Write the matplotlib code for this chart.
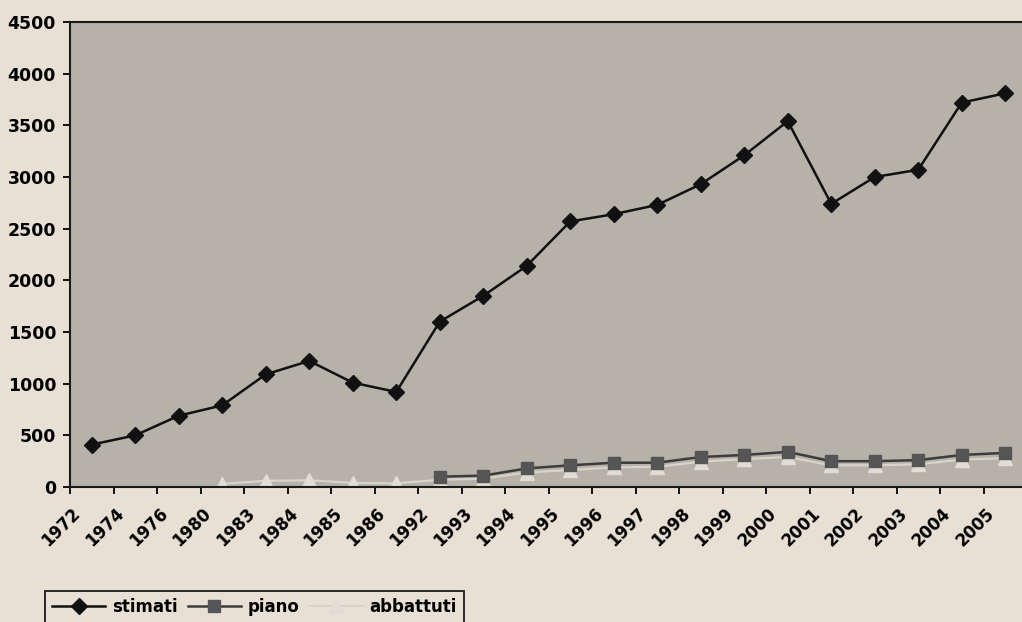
import matplotlib
matplotlib.use("Agg")
import matplotlib.pyplot as plt
import matplotlib.transforms as mtransforms
import numpy as np

years = ["1972", "1974", "1976", "1980", "1983", "1984", "1985", "1986", "1992", "1993", "1994",
         "1995", "1996", "1997", "1998", "1999", "2000", "2001", "2002", "2003", "2004", "2005"]
stimati = [410, 500, 690, 790, 1090, 1220, 1010, 920, 1600, 1850, 2140,
           2570, 2640, 2730, 2930, 3210, 3540, 2740, 3000, 3070, 3720, 3810]
piano = [np.nan] * 8 + [100, 110, 180, 210, 235, 235, 290, 310, 340, 250, 250, 260, 310, 330]
abbattuti = [np.nan, np.nan, np.nan, 30, 60, 65, 40, 35, 70, 80, 140,
             165, 190, 195, 245, 270, 290, 210, 210, 220, 265, 280]
yticks = [0, 500, 1000, 1500, 2000, 2500, 3000, 3500, 4000, 4500]

PAPER = "#e9e0d5"
PLOT_BG = "#b6b2a9"

plt.rcParams["font.family"] = ["DejaVu Sans"]
plt.rcParams["font.weight"] = "bold"

fig = plt.figure(figsize=(10.22, 6.22), dpi=100, facecolor=PAPER)
ax = fig.add_axes([70 / 1022, 1 - 487 / 622, 957 / 1022, 465 / 622])
ax.set_facecolor(PLOT_BG)

x = np.arange(len(years))
ax.plot(x, abbattuti, color="#d9d3c9", lw=1.6, marker="^", ms=10, mfc="#e2ddd4",
        mec="#e2ddd4", label="abbattuti", zorder=2)
ax.plot(x, piano, color="#3c3c3c", lw=1.8, marker="s", ms=9, mfc="#555555",
        mec="#555555", label="piano", zorder=3)
ax.plot(x, stimati, color="#111111", lw=1.8, marker="D", ms=8.5, mfc="#111111",
        mec="#111111", label="stimati", zorder=4)

ax.set_xlim(-0.5, len(years) - 0.5)
ax.set_ylim(0, 4500)
ax.set_yticks(yticks)
ax.tick_params(axis="y", direction="out", length=5, width=1.3, pad=5, labelsize=12.5)

# category boundaries carry the tick marks, centres carry the labels
ax.set_xticks(np.arange(-0.5, len(years), 1.0))
ax.set_xticklabels([])
ax.set_xticks(x, minor=True)
ax.set_xticklabels(years, minor=True, rotation=45, ha="right", va="center",
                   rotation_mode="anchor", fontsize=12)
ax.tick_params(axis="x", which="major", direction="out", length=5, width=1.3)
ax.tick_params(axis="x", which="minor", length=0, pad=17)
shift = mtransforms.ScaledTranslation(-10 / 72, 0, fig.dpi_scale_trans)
for lab in ax.get_xticklabels(minor=True):
    lab.set_transform(lab.get_transform() + shift)

for side in ["left", "bottom", "top"]:
    ax.spines[side].set_linewidth(1.5)
    ax.spines[side].set_color("#1a1a1a")
ax.spines["right"].set_visible(False)

handles, labels = ax.get_legend_handles_labels()
order = [2, 1, 0]
leg = fig.legend([handles[i] for i in order], [labels[i] for i in order],
                 loc="upper left", bbox_to_anchor=(37 / 1022, 1 - 583 / 622),
                 ncol=3, frameon=True, fancybox=False, facecolor=PAPER, edgecolor="#1a1a1a",
                 framealpha=1, handlelength=3.2, columnspacing=0.6, handletextpad=0.4,
                 borderpad=0.4, prop={"weight": "bold", "size": 12})
leg.get_frame().set_linewidth(1.3)

fig.savefig("out.png", dpi=100, facecolor=PAPER)
